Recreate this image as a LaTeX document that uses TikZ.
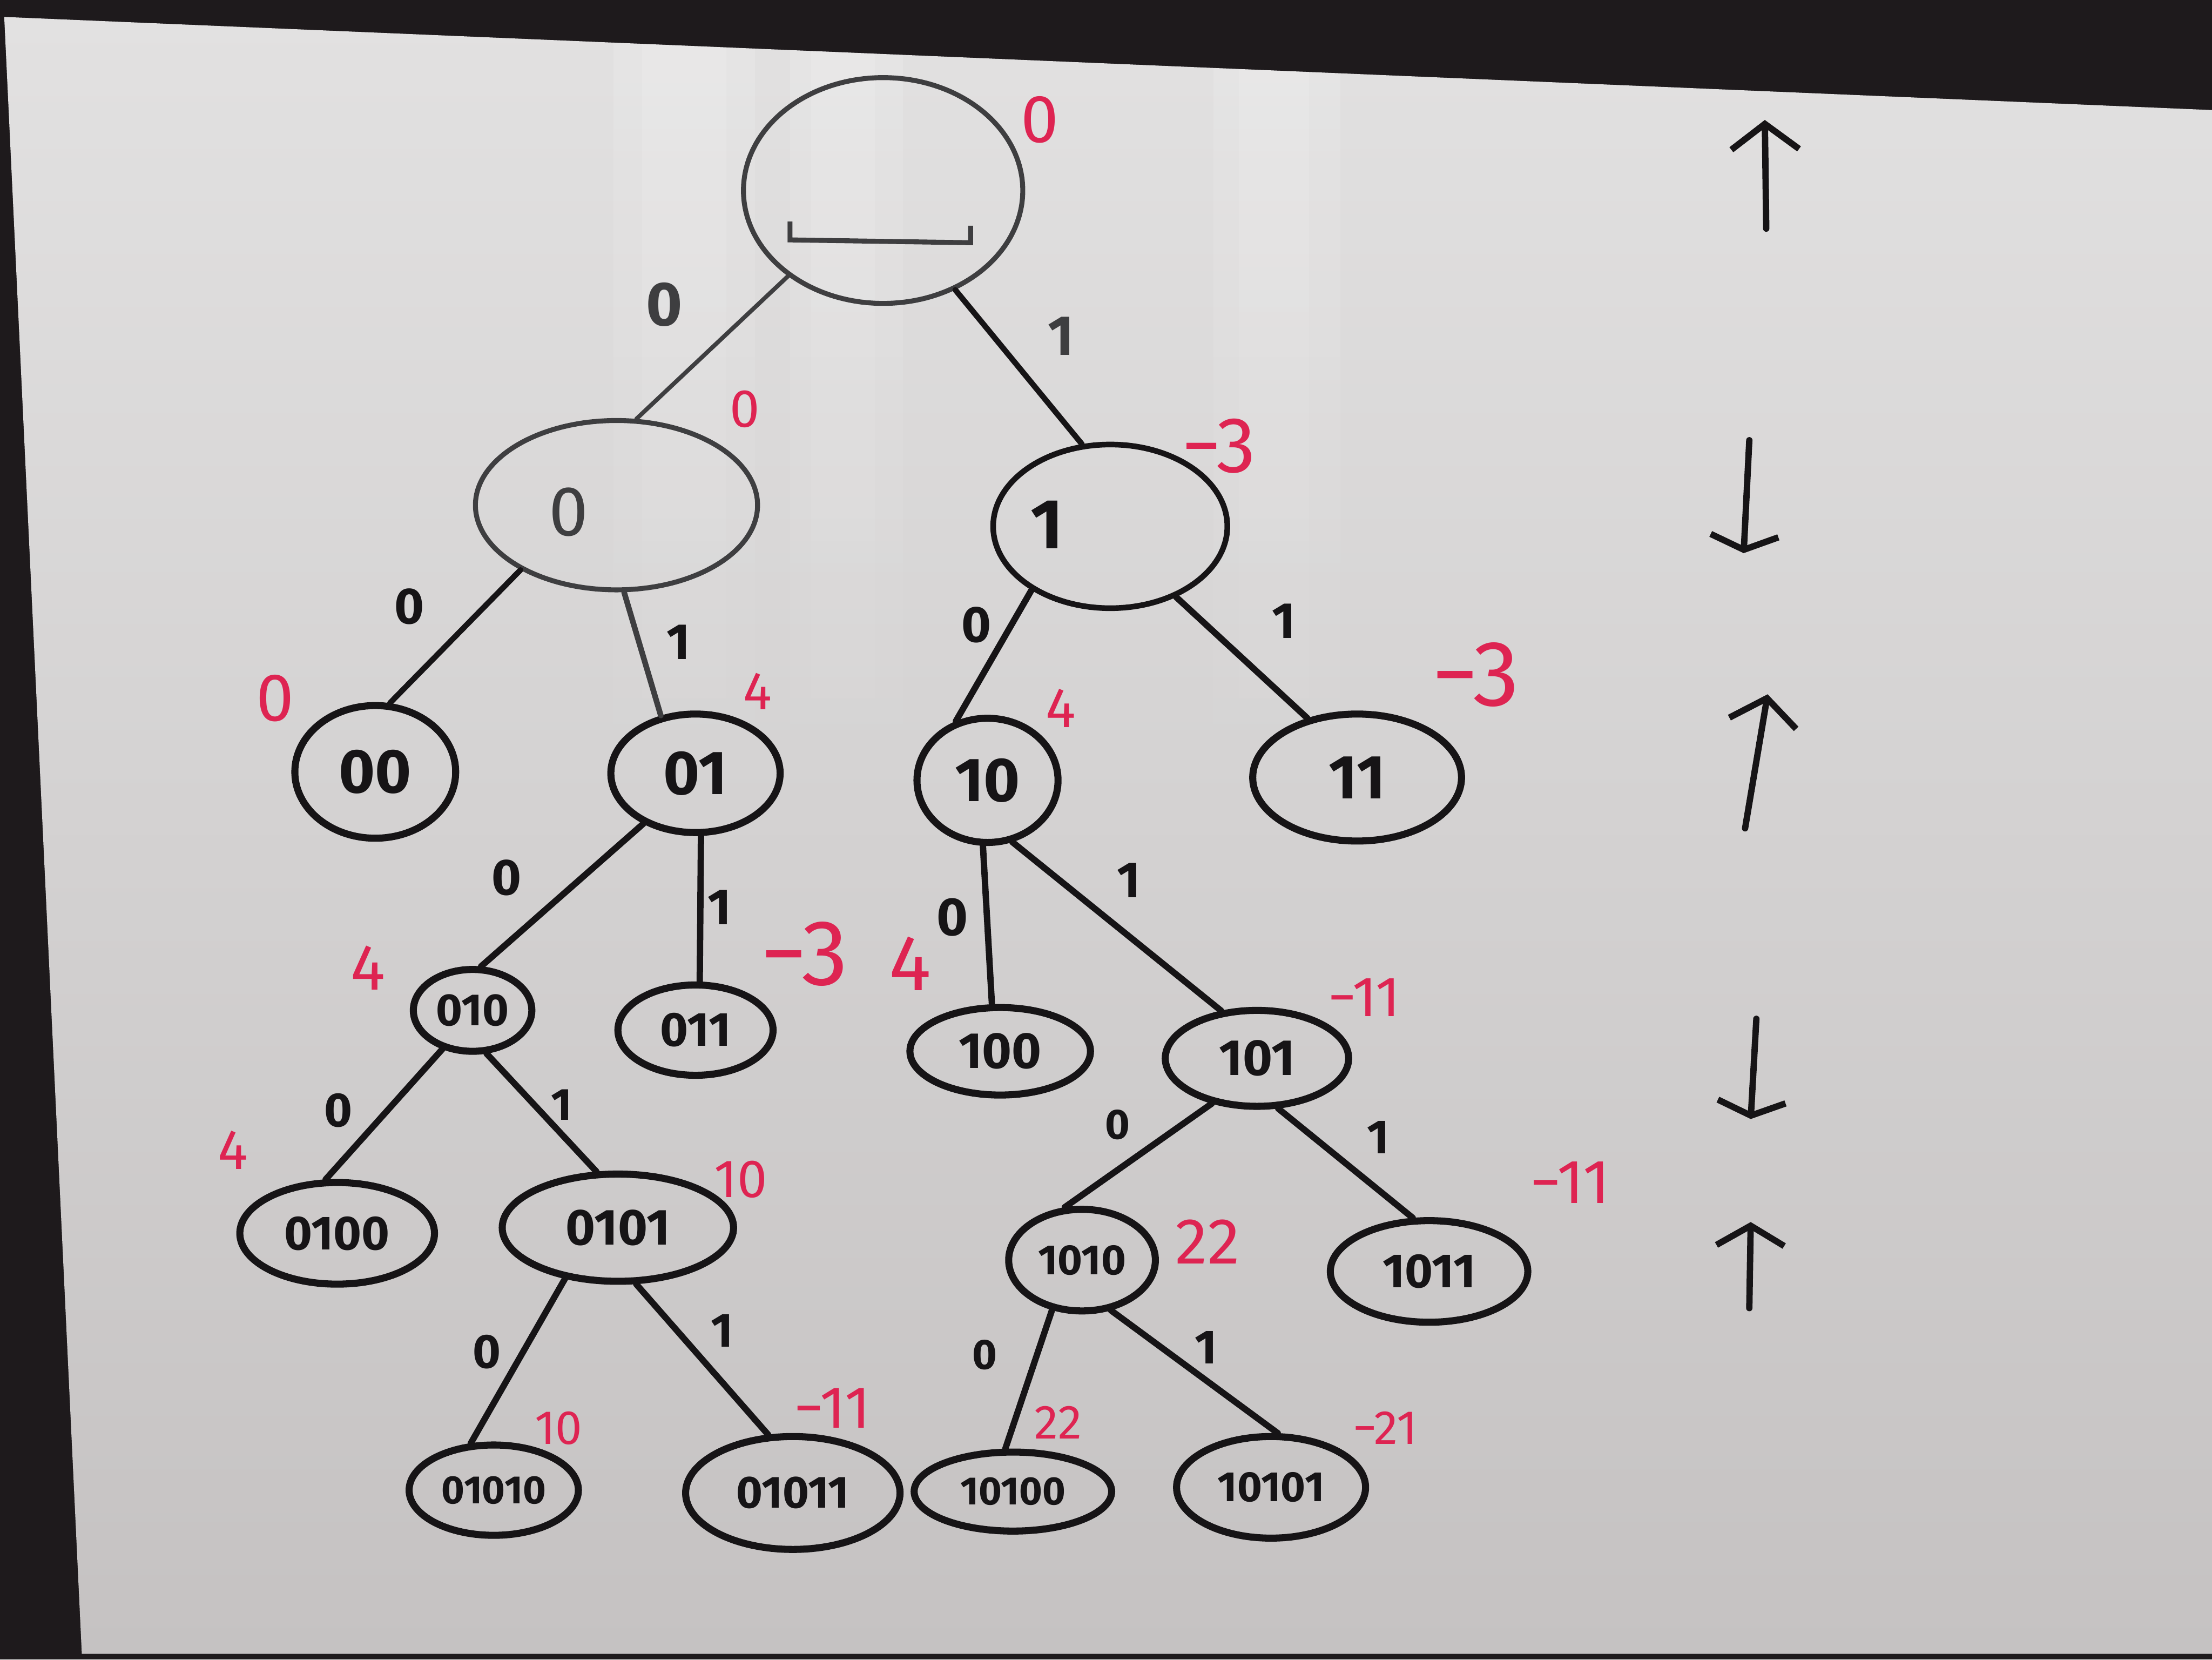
\documentclass[tikz,border=0pt]{standalone}
\usepackage{fontspec}
\setmainfont{Fira Sans}
\usetikzlibrary{shapes.geometric,arrows.meta,fadings}

\definecolor{inkblack}{RGB}{22,20,22}
\definecolor{inkgray}{RGB}{62,62,64}
\definecolor{markred}{RGB}{222,36,82}
\definecolor{boardframe}{RGB}{30,26,28}
\definecolor{boardtop}{RGB}{226,225,225}
\definecolor{boardbot}{RGB}{197,194,194}

\tikzset{
	tnode/.style={draw=inkblack, ellipse, line width=5pt, inner sep=0pt, text=inkblack, font=\fontsize{#1}{#1}\selectfont\bfseries},
	ttext/.style={text=inkgray, inner sep=0pt, font=\fontsize{#1}{#1}\selectfont},
	tedge/.style={draw=inkblack, line width=4.5pt, line cap=round},
	elabel/.style={text=inkblack, inner sep=0pt, font=\fontsize{#1}{#1}\selectfont\bfseries},
	vlabel/.style={text=markred, inner sep=0pt, font=\fontsize{#1}{#1}\selectfont},
	mmarrow/.style={draw=inkblack, line width=4.5pt, line cap=round, -{Straight Barb[length=#1, width=48pt, line width=4.5pt]}},
}

\begin{document}
\begin{tikzpicture}[x=1pt,y=1pt,yscale=-1]
	\useasboundingbox (0,0) rectangle (1568,1176);
	
	%Board and frame
	\fill[boardframe] (0,0) rectangle (1568,1176);
	\shade[top color=boardtop, bottom color=boardbot] (3,12) -- (1568,78) -- (1568,1172) -- (58,1172) -- cycle;
	%Glare
	\begin{scope}
		\clip (3,12) -- (1568,78) -- (1568,1172) -- (58,1172) -- cycle;
		\foreach \gx/\gw in {435/100, 455/60, 560/80, 575/45, 860/90, 878/50}
			\fill[white, opacity=0.14, path fading=south] (\gx,20) rectangle ++(\gw,580);
	\end{scope}
	
	%Root
	\node[tnode=48, draw=inkgray, line width=3.5pt, minimum width=198pt, minimum height=160pt] (root) at (626,135) {};
	\draw[inkgray, line width=3.5pt] ([shift={(-66,22)}]root.center) -- ++(0,13) -- ++(128,2) -- ++(0,-12);
	
	%Level 1
	\node[tnode=48, draw=inkgray, line width=3.5pt, minimum width=200pt, minimum height=120pt] (n0) at (437,358) {};
	\node[ttext=50] (t0) at (403,363) {0};
	\node[tnode=48, line width=4pt, minimum width=166pt, minimum height=116pt] (n1) at (787,373) {};
	\node[ttext=50, text=inkblack, font=\fontsize{50}{50}\selectfont\bfseries] (t1) at (742,372) {1};
	
	%Level 2
	\node[tnode=44, minimum width=114pt, minimum height=94pt] (n00) at (266,547) {00};
	\node[tnode=44, minimum width=120pt, minimum height=84pt] (n01) at (493,548) {01};
	\node[tnode=44, minimum width=100pt, minimum height=88pt] (n10) at (700,553) {10};
	\node[tnode=44, minimum width=148pt, minimum height=90pt] (n11) at (962,551) {11};
	
	%Level 3
	\node[tnode=32, minimum width=84pt, minimum height=58pt] (n010) at (335,716) {010};
	\node[tnode=34, minimum width=110pt, minimum height=64pt] (n011) at (493,730) {011};
	\node[tnode=36, minimum width=128pt, minimum height=62pt] (n100) at (709,745) {100};
	\node[tnode=36, minimum width=130pt, minimum height=68pt] (n101) at (891,750) {101};
	
	%Level 4
	\node[tnode=34, minimum width=138pt, minimum height=72pt] (n0100) at (239,874) {0100};
	\node[tnode=36, minimum width=164pt, minimum height=76pt] (n0101) at (438,870) {0101};
	\node[tnode=30, minimum width=104pt, minimum height=72pt] (n1010) at (767,893) {1010};
	\node[tnode=34, minimum width=140pt, minimum height=72pt] (n1011) at (1013,901) {1011};
	
	%Level 5
	\node[tnode=28, minimum width=120pt, minimum height=64pt] (n01010) at (350,1056) {01010};
	\node[tnode=32, minimum width=152pt, minimum height=80pt] (n01011) at (562,1058) {01011};
	\node[tnode=28, minimum width=140pt, minimum height=56pt] (n10100) at (718,1057) {10100};
	\node[tnode=30, minimum width=134pt, minimum height=72pt] (n10101) at (901,1054) {10101};
	
	%Edges
	\draw[tedge, draw=inkgray, line width=3pt] (root.222) -- (n0.77);
	\draw[tedge, line width=4pt] (root.306) -- (n1.109);
	\draw[tedge, line width=4pt] (n0.214) -- (n00.78);
	\draw[tedge, draw=inkgray, line width=4pt] (n0.275) -- (n01.121);
	\draw[tedge] (n1.219) -- (n10.118);
	\draw[tedge] (n1.313) -- (n11.130);
	\draw[tedge] (n01.224) -- (n010.79);
	\draw[tedge] (n01.275) -- (n011.85);
	\draw[tedge] (n10.266) -- (n100.100);
	\draw[tedge] (n10.292) -- (n101.127);
	\draw[tedge] (n010.232) -- (n0100.102);
	\draw[tedge] (n010.288) -- (n0101.111);
	\draw[tedge] (n101.225) -- (n1010.108);
	\draw[tedge] (n101.293) -- (n1011.107);
	\draw[tedge] (n0101.224) -- (n01010.116);
	\draw[tedge] (n0101.288) -- (n01011.113);
	\draw[tedge] (n1010.239) -- (n10100.100);
	\draw[tedge] (n1010.300) -- (n10101.83);
	
	%Edge labels
	\node[elabel=44, text=inkgray] (e-root-0) at (471,216) {0};
	\node[elabel=40, text=inkgray] (e-root-1) at (752,238) {1};
	\node[elabel=36] (e-0-00) at (290,430) {0};
	\node[elabel=36] (e-0-01) at (481,455) {1};
	\node[elabel=36] (e-1-10) at (692,443) {0};
	\node[elabel=36] (e-1-11) at (910,440) {1};
	\node[elabel=36] (e-01-010) at (359,622) {0};
	\node[elabel=36] (e-01-011) at (510,643) {1};
	\node[elabel=38] (e-10-100) at (675,650) {0};
	\node[elabel=36] (e-10-101) at (800,624) {1};
	\node[elabel=34] (e-010-0100) at (240,787) {0};
	\node[elabel=32] (e-010-0101) at (398,783) {1};
	\node[elabel=30] (e-101-1010) at (792,797) {0};
	\node[elabel=34] (e-101-1011) at (977,806) {1};
	\node[elabel=34] (e-0101-01010) at (345,958) {0};
	\node[elabel=34] (e-0101-01011) at (512,943) {1};
	\node[elabel=30] (e-1010-10100) at (698,960) {0};
	\node[elabel=34] (e-1010-10101) at (855,955) {1};
	
	%Values
	\node[vlabel=48] (v-root) at (737,85) {0};
	\node[vlabel=38] (v-0) at (528,290) {0};
	\node[vlabel=56] (v-1) at (864,316) {−3};
	\node[vlabel=48] (v-00) at (195,495) {0};
	\node[vlabel=38] (v-01) at (537,490) {4};
	\node[vlabel=40] (v-10) at (752,502) {4};
	\node[vlabel=66] (v-11) at (1046,478) {−3};
	\node[vlabel=46] (v-010) at (261,686) {4};
	\node[vlabel=66] (v-011) at (570,676) {−3};
	\node[vlabel=56] (v-100) at (645,683) {4};
	\node[vlabel=40] (v-101) at (967,707) {−11};
	\node[vlabel=40] (v-0100) at (165,815) {4};
	\node[vlabel=38] (v-0101) at (525,836) {10};
	\node[vlabel=46] (v-1010) at (856,880) {22};
	\node[vlabel=44] (v-1011) at (1113,838) {−11};
	\node[vlabel=34] (v-01010) at (396,1012) {10};
	\node[vlabel=42] (v-01011) at (590,998) {−11};
	\node[vlabel=34] (v-10100) at (750,1008) {22};
	\node[vlabel=34] (v-10101) at (982,1012) {−21};
	
	%Max/min arrows
	\draw[mmarrow=18pt] (1252,162) -- (1251,85);
	\draw[mmarrow=10pt] (1240,312) -- (1236,392);
	\draw[mmarrow=18pt] (1237,587) -- (1253,492);
	\draw[mmarrow=10pt] (1245,722) -- (1241,793);
	\draw[mmarrow=14pt] (1240,927) -- (1241,866);
	
\end{tikzpicture}
\end{document}
